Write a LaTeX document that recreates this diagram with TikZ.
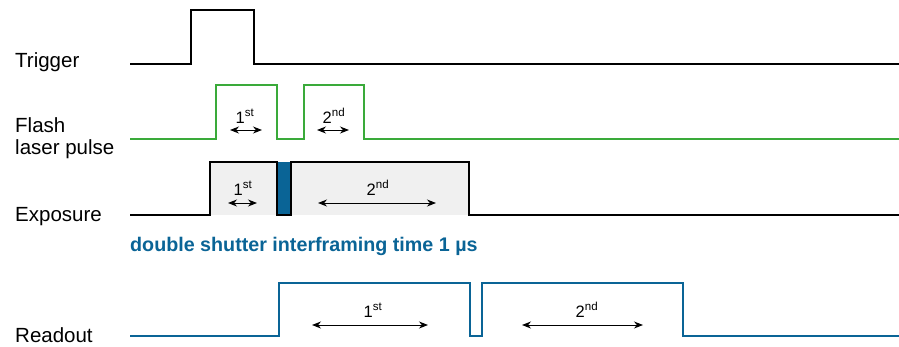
\documentclass[tikz,border=0pt]{standalone}
\usepackage{fontspec}
\setmainfont{Liberation Sans}
\usetikzlibrary{arrows.meta}
\definecolor{sigblue}{RGB}{10,100,150}
\definecolor{siggreen}{RGB}{58,170,58}
\definecolor{expfill}{RGB}{240,240,240}
\tikzset{
  wave/.style={line width=2.5pt, line join=miter},
  lbl/.style={anchor=base west, inner sep=0pt, font=\fontsize{20.5}{22}\selectfont},
  ord/.style={anchor=base, inner sep=0pt, font=\fontsize{16.5}{18}\selectfont},
  dim/.style={line width=1pt, {Stealth[length=9pt,width=7pt]}-{Stealth[length=9pt,width=7pt]}},
}
\begin{document}
\begin{tikzpicture}[x=1pt,y=-1pt]
\useasboundingbox (0,0) rectangle (899,346);
% labels
\node[lbl] (ltrig) at (15,67) {Trigger};
\node[lbl, align=left, anchor=north west] (lflash) at (15,117.5) {Flash\\laser pulse};
\node[lbl] (lexp) at (15,221) {Exposure};
\node[lbl] (lread) at (15,342) {Readout};
\node[anchor=base west, inner sep=0pt, text=sigblue, font=\fontsize{19.7}{22}\selectfont\bfseries] (note) at (130,251) {double shutter interframing time 1 µs};
% trigger
\draw[wave] (130,64) -- (191,64) -- (191,10) -- (254,10) -- (254,64) -- (899,64);
% flash
\draw[wave, siggreen] (130,139) -- (216,139) -- (216,85) -- (277,85) -- (277,139) -- (304,139) -- (304,85) -- (364,85) -- (364,139) -- (899,139);
% exposure
\fill[expfill] (210,162) rectangle (469,215);
\fill[sigblue] (277,162) rectangle (291,215);
\draw[wave] (130,215) -- (210,215) -- (210,162) -- (277,162) -- (277,215) -- (291,215) -- (291,162) -- (469,162) -- (469,215) -- (899,215);
% readout
\draw[wave, sigblue] (130,336) -- (279,336) -- (279,283) -- (470,283) -- (470,336) -- (482,336) -- (482,283) -- (683,283) -- (683,336) -- (899,336);
% flash ordinals
\node[ord] (f1) at (245,123) {1\textsuperscript{st}};
\node[ord] (f2) at (334,123) {2\textsuperscript{nd}};
\coordinate (f1a) at (230,130); \coordinate (f1b) at (262,130);
\coordinate (f2a) at (317,130); \coordinate (f2b) at (349,130);
\draw[dim] (f1a) -- (f1b);
\draw[dim] (f2a) -- (f2b);
% exposure ordinals
\node[ord] (e1) at (243,195) {1\textsuperscript{st}};
\node[ord] (e2) at (378,195) {2\textsuperscript{nd}};
\coordinate (e1a) at (228,203); \coordinate (e1b) at (257,203);
\coordinate (e2a) at (318,203); \coordinate (e2b) at (436,203);
\draw[dim] (e1a) -- (e1b);
\draw[dim] (e2a) -- (e2b);
% readout ordinals
\node[ord] (r1) at (373,317) {1\textsuperscript{st}};
\node[ord] (r2) at (587,317) {2\textsuperscript{nd}};
\coordinate (r1a) at (312,325); \coordinate (r1b) at (428,325);
\coordinate (r2a) at (522,325); \coordinate (r2b) at (643,325);
\draw[dim] (r1a) -- (r1b);
\draw[dim] (r2a) -- (r2b);
\end{tikzpicture}
\end{document}
